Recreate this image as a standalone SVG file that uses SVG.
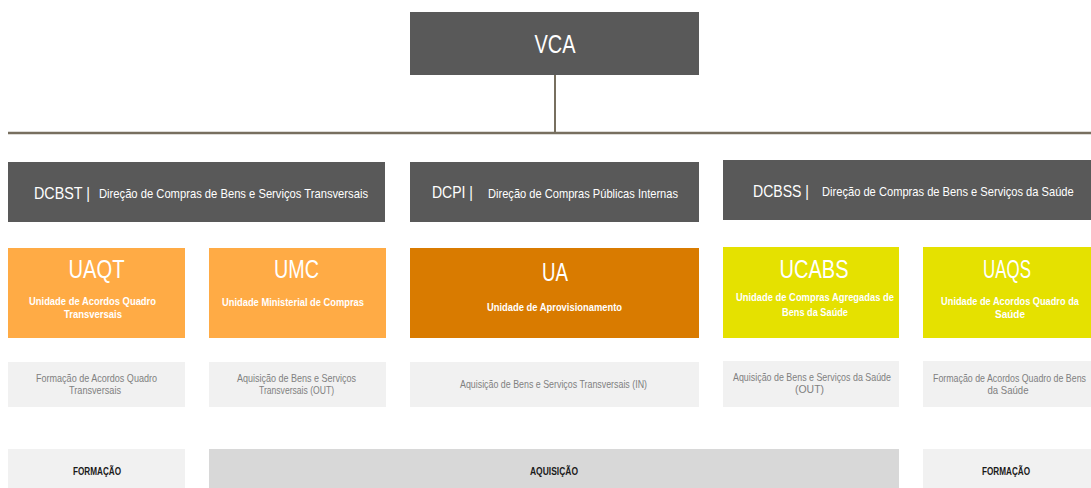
<svg xmlns="http://www.w3.org/2000/svg" width="1091" height="488" viewBox="0 0 1091 488">
  <style>
    text { font-family: "Liberation Sans", Arial, sans-serif; }
    .dark { fill: #595959; }
    .lorange { fill: #FFAB45; }
    .dorange { fill: #D97B00; }
    .yellow { fill: #E5E100; }
    .desc-box { fill: #F1F1F1; }
    .band-light { fill: #F1F1F1; }
    .band-mid { fill: #D8D8D8; }
    .top { font-size: 25px; fill: #FFFFFF; text-anchor: middle; }
    .code { font-size: 17px; fill: #FFFFFF; }
    .name { font-size: 13px; fill: #FFFFFF; }
    .title { font-size: 25px; fill: #FFFFFF; text-anchor: middle; }
    .sub { font-size: 11.5px; font-weight: bold; fill: #FFFFFF; text-anchor: middle; }
    .desc { font-size: 10.5px; fill: #808080; text-anchor: middle; }
    .band { font-size: 10px; font-weight: bold; fill: #1A1A1A; text-anchor: middle; }
    .link { stroke: #776F5F; fill: none; }
  </style>

  <!-- connectors -->
  <g id="connectors">
    <line class="link" x1="555" y1="75" x2="555" y2="133" stroke-width="2"/>
    <line class="link" x1="8" y1="133" x2="1091" y2="133" stroke-width="2.5"/>
  </g>

  <!-- top level -->
  <g id="vca">
    <rect class="dark" x="410" y="12" width="289" height="63"/>
    <text class="top" x="555" y="53" textLength="41" lengthAdjust="spacingAndGlyphs">VCA</text>
  </g>

  <!-- directorates -->
  <g id="dcbst">
    <rect class="dark" x="8" y="162" width="377" height="60"/>
    <text class="code" x="34" y="199" textLength="56" lengthAdjust="spacingAndGlyphs">DCBST |</text>
    <text class="name" x="99" y="198" textLength="269" lengthAdjust="spacingAndGlyphs">Direção de Compras de Bens e Serviços Transversais</text>
  </g>
  <g id="dcpi">
    <rect class="dark" x="410" y="162" width="289" height="60"/>
    <text class="code" x="432" y="198" textLength="41" lengthAdjust="spacingAndGlyphs">DCPI |</text>
    <text class="name" x="488" y="198" textLength="190" lengthAdjust="spacingAndGlyphs">Direção de Compras Públicas Internas</text>
  </g>
  <g id="dcbss">
    <rect class="dark" x="723" y="160" width="368" height="60"/>
    <text class="code" x="753" y="197" textLength="56" lengthAdjust="spacingAndGlyphs">DCBSS |</text>
    <!-- condensed horizontally so the long name stays inside the box -->
    <text class="name" transform="translate(822 196) scale(0.82 1)" x="0" y="0" textLength="307" lengthAdjust="spacingAndGlyphs">Direção de Compras de Bens e Serviços da Saúde</text>
  </g>

  <!-- units -->
  <g id="uaqt">
    <rect class="lorange" x="8" y="248" width="177" height="90"/>
    <text class="title" x="96.5" y="278" textLength="56" lengthAdjust="spacingAndGlyphs">UAQT</text>
    <text class="sub" x="92.5" y="305" textLength="127" lengthAdjust="spacingAndGlyphs">Unidade de Acordos Quadro</text>
    <text class="sub" x="93" y="318" textLength="58" lengthAdjust="spacingAndGlyphs">Transversais</text>
  </g>
  <g id="umc">
    <rect class="lorange" x="209" y="248" width="177" height="90"/>
    <text class="title" x="296.5" y="278" textLength="45" lengthAdjust="spacingAndGlyphs">UMC</text>
    <text class="sub" x="293" y="306" textLength="142" lengthAdjust="spacingAndGlyphs">Unidade Ministerial de Compras</text>
  </g>
  <g id="ua">
    <rect class="dorange" x="410" y="248" width="289" height="90"/>
    <text class="title" x="555" y="281" textLength="26" lengthAdjust="spacingAndGlyphs">UA</text>
    <text class="sub" x="554.5" y="311" textLength="135" lengthAdjust="spacingAndGlyphs">Unidade de Aprovisionamento</text>
  </g>
  <g id="ucabs">
    <rect class="yellow" x="723" y="247" width="176" height="91"/>
    <text class="title" x="814" y="278" textLength="69" lengthAdjust="spacingAndGlyphs">UCABS</text>
    <text class="sub" x="815" y="301" textLength="158" lengthAdjust="spacingAndGlyphs">Unidade de Compras Agregadas de</text>
    <text class="sub" x="815" y="316" textLength="66" lengthAdjust="spacingAndGlyphs">Bens da Saúde</text>
  </g>
  <g id="uaqs">
    <rect class="yellow" x="923" y="247" width="168" height="91"/>
    <text class="title" x="1007" y="278" textLength="48" lengthAdjust="spacingAndGlyphs">UAQS</text>
    <text class="sub" transform="translate(1010 305) scale(0.82 1)" x="0" y="0" textLength="168" lengthAdjust="spacingAndGlyphs">Unidade de Acordos Quadro da</text>
    <text class="sub" x="1010" y="318" textLength="30" lengthAdjust="spacingAndGlyphs">Saúde</text>
  </g>

  <!-- activities -->
  <g id="desc-uaqt">
    <rect class="desc-box" x="8" y="362" width="177" height="45"/>
    <text class="desc" x="96.5" y="382" textLength="121" lengthAdjust="spacingAndGlyphs">Formação de Acordos Quadro</text>
    <text class="desc" x="95" y="394" textLength="52" lengthAdjust="spacingAndGlyphs">Transversais</text>
  </g>
  <g id="desc-umc">
    <rect class="desc-box" x="209" y="362" width="177" height="45"/>
    <text class="desc" x="296.5" y="382" textLength="119" lengthAdjust="spacingAndGlyphs">Aquisição de Bens e Serviços</text>
    <text class="desc" x="296.5" y="394" textLength="75" lengthAdjust="spacingAndGlyphs">Transversais (OUT)</text>
  </g>
  <g id="desc-ua">
    <rect class="desc-box" x="410" y="362" width="289" height="45"/>
    <text class="desc" x="553.5" y="388" textLength="187" lengthAdjust="spacingAndGlyphs">Aquisição de Bens e Serviços Transversais (IN)</text>
  </g>
  <g id="desc-ucabs">
    <rect class="desc-box" x="723" y="361" width="176" height="46"/>
    <text class="desc" x="812" y="381" textLength="158" lengthAdjust="spacingAndGlyphs">Aquisição de Bens e Serviços da Saúde</text>
    <text class="desc" x="809.5" y="393" textLength="29" lengthAdjust="spacingAndGlyphs">(OUT)</text>
  </g>
  <g id="desc-uaqs">
    <rect class="desc-box" x="923" y="361" width="168" height="46"/>
    <text class="desc" transform="translate(1009.5 382) scale(0.82 1)" x="0" y="0" textLength="186.5" lengthAdjust="spacingAndGlyphs">Formação de Acordos Quadro de Bens</text>
    <text class="desc" x="1008" y="394" textLength="41" lengthAdjust="spacingAndGlyphs">da Saúde</text>
  </g>

  <!-- process bands -->
  <g id="band-formacao-left">
    <rect class="band-light" x="8" y="449" width="177" height="39"/>
    <text class="band" x="97" y="475" textLength="48" lengthAdjust="spacingAndGlyphs">FORMAÇÃO</text>
  </g>
  <g id="band-aquisicao">
    <rect class="band-mid" x="209" y="449" width="690" height="39"/>
    <text class="band" x="554" y="475" textLength="48" lengthAdjust="spacingAndGlyphs">AQUISIÇÃO</text>
  </g>
  <g id="band-formacao-right">
    <rect class="band-light" x="923" y="449" width="168" height="39"/>
    <text class="band" x="1006" y="475" textLength="48" lengthAdjust="spacingAndGlyphs">FORMAÇÃO</text>
  </g>
</svg>
